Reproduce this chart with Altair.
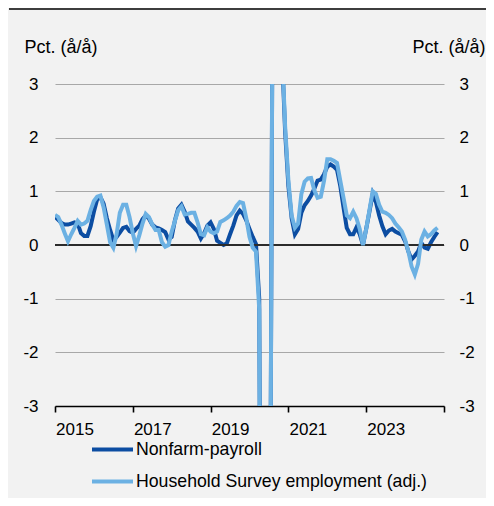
import altair as alt
import pandas as pd

# Monthly observations, Jan 2015 ... Nov 2024
months = pd.date_range("2015-01-01", periods=119, freq="MS")

nonfarm = [0.53, 0.47, 0.41, 0.38, 0.38, 0.40, 0.42, 0.40, 0.22, 0.17,
           0.17, 0.35, 0.62, 0.85, 0.89, 0.77, 0.50, 0.28, 0.09, 0.15,
           0.23, 0.32, 0.34, 0.26, 0.23, 0.30, 0.36, 0.48, 0.55, 0.49,
           0.38, 0.33, 0.31, 0.28, 0.24, 0.10, 0.15, 0.46, 0.68, 0.75,
           0.62, 0.44, 0.38, 0.32, 0.25, 0.12, 0.22, 0.36, 0.42, 0.30,
           0.08, 0.04, 0.00, 0.03, 0.20, 0.36, 0.55, 0.64, 0.58, 0.46,
           0.30, 0.15, 0.02, -1.0, -14.0, -12.5, -11.0, 3.2, 7.0, 5.0,
           3.6, 2.1, 1.1, 0.5, 0.2, 0.3, 0.6, 0.74, 0.82, 0.92,
           1.05, 1.2, 1.22, 1.32, 1.46, 1.5, 1.46, 1.4, 1.1, 0.7,
           0.32, 0.2, 0.2, 0.33, 0.2, 0.0, 0.3, 0.62, 0.95, 0.8,
           0.55, 0.35, 0.2, 0.27, 0.3, 0.25, 0.22, 0.19, 0.07, -0.12,
           -0.27, -0.2, -0.12, 0.04, -0.05, -0.07, 0.05, 0.15, 0.24]

household = [0.56, 0.52, 0.38, 0.22, 0.07, 0.20, 0.32, 0.45, 0.38, 0.40,
             0.45, 0.65, 0.82, 0.90, 0.92, 0.70, 0.38, 0.05, -0.05, 0.20,
             0.60, 0.75, 0.75, 0.52, 0.22, -0.02, 0.18, 0.40, 0.58, 0.52,
             0.38, 0.28, 0.28, 0.05, -0.03, 0.00, 0.25, 0.45, 0.65, 0.72,
             0.57, 0.58, 0.60, 0.60, 0.42, 0.20, 0.18, 0.33, 0.25, 0.22,
             0.25, 0.43, 0.46, 0.50, 0.55, 0.62, 0.73, 0.80, 0.78, 0.50,
             0.15, -0.05, -0.12, -1.2, -15.5, -13.5, -11.5, 3.3, 7.5, 5.5,
             3.7, 2.2, 1.2, 0.55, 0.32, 0.40, 0.95, 1.18, 1.24, 1.25,
             1.02, 0.88, 0.90, 1.20, 1.60, 1.60, 1.57, 1.53, 1.20, 0.88,
             0.55, 0.50, 0.62, 0.50, 0.30, 0.00, 0.30, 0.65, 1.00, 0.95,
             0.75, 0.62, 0.60, 0.56, 0.50, 0.40, 0.33, 0.25, 0.10, -0.12,
             -0.40, -0.55, -0.35, 0.10, 0.25, 0.16, 0.20, 0.27, 0.32]

series_names = ["Nonfarm-payroll", "Household Survey employment (adj.)"]
series_colors = ["#0c4da2", "#6cb1e3"]
year_ticks = list(range(2015, 2026))
y_ticks = [-3, -2, -1, 0, 1, 2, 3]
axis_title = "Pct. (å/å)"

t = [m.year + (m.month - 1) / 12 for m in months]
df = pd.concat([
    pd.DataFrame({"t": t, "value": nonfarm, "series": series_names[0], "ord": 0}),
    pd.DataFrame({"t": t, "value": household, "series": series_names[1], "ord": 1}),
])

FONT = "Liberation Sans"
W, H = 389, 322

xscale = alt.Scale(domain=[2015, 2025], nice=False, zero=False)
yscale = alt.Scale(domain=[-3, 3], nice=False, zero=False)

xaxis = alt.Axis(values=year_ticks, format="d", title=None, grid=False,
                 labelExpr="datum.value % 2 == 1 && datum.value < 2025 ? datum.label : ''",
                 labelOffset=19.5, labelPadding=9, tickSize=6, tickWidth=1.6,
                 tickColor="#000000", domainColor="#000000", domainWidth=1.6,
                 labelFontSize=17, labelFont=FONT, labelColor="#000000",
                 labelFlush=False, labelOverlap=False)

ylab = "toString(datum.value)"

yaxis_left = alt.Axis(values=y_ticks, title=axis_title, grid=True, gridColor="#a8a8a8",
                      gridWidth=1.2, domain=False, ticks=False, tickSize=0,
                      labelExpr=ylab,
                      labelPadding=17, labelFontSize=17, labelFont=FONT,
                      labelColor="#000000", titleAngle=0, titleAlign="left",
                      titleBaseline="middle", titleX=-31, titleY=-37,
                      titleFont=FONT, titleFontSize=18, titleFontWeight="normal",
                      titleColor="#000000")

yaxis_right = alt.Axis(values=y_ticks, title=axis_title, orient="right", grid=False,
                       domain=False, ticks=False, tickSize=0, labelPadding=15,
                       labelExpr=ylab,
                       labelFontSize=17, labelFont=FONT, labelColor="#000000",
                       labelAlign="left", titleAngle=0, titleAlign="right",
                       titleBaseline="middle", titleX=41, titleY=-37,
                       titleFont=FONT, titleFontSize=18, titleFontWeight="normal",
                       titleColor="#000000")

color = alt.Color("series:N",
                  scale=alt.Scale(domain=series_names, range=series_colors),
                  sort=series_names,
                  legend=alt.Legend(title=None, orient="none", legendX=35, legendY=343,
                                    direction="vertical", symbolType="stroke",
                                    symbolSize=1681, symbolStrokeWidth=4,
                                    labelFont=FONT, labelFontSize=17.7, labelLimit=400,
                                    labelColor="#000000", labelOffset=1,
                                    rowPadding=-30, padding=0))

base = alt.Chart(df)

zero = alt.Chart(pd.DataFrame({"v": [0]})).mark_rule(color="#2b2b2b", strokeWidth=1.8).encode(
    y=alt.Y("v:Q", scale=yscale, axis=yaxis_right)
)

dark = base.transform_filter(alt.datum.ord == 0).mark_line(strokeWidth=4, clip=True).encode(
    x=alt.X("t:Q", scale=xscale, axis=xaxis),
    y=alt.Y("value:Q", scale=yscale, axis=yaxis_left),
    color=color,
)
light = base.transform_filter(alt.datum.ord == 1).mark_line(strokeWidth=4, clip=True).encode(
    x=alt.X("t:Q", scale=xscale),
    y=alt.Y("value:Q", scale=yscale, axis=None),
    color=color,
)

top_rule = alt.Chart(pd.DataFrame({"v": [0]})).mark_rule(color="#000000", strokeWidth=1.5).encode(
    x=alt.value(-46), x2=alt.value(440), y=alt.value(-75)
)

chart = alt.layer(dark, zero, light, top_rule).resolve_scale(y="shared").resolve_axis(
    y="independent"
).properties(
    width=W, height=H, background="#f2f2f2",
    autosize=alt.AutoSizeParams(type="none"),
    padding={"left": 47, "top": 76, "right": 42, "bottom": 92},
).configure_view(stroke=None)

chart.save("out.html", embed_options={"renderer": "svg", "actions": False})
